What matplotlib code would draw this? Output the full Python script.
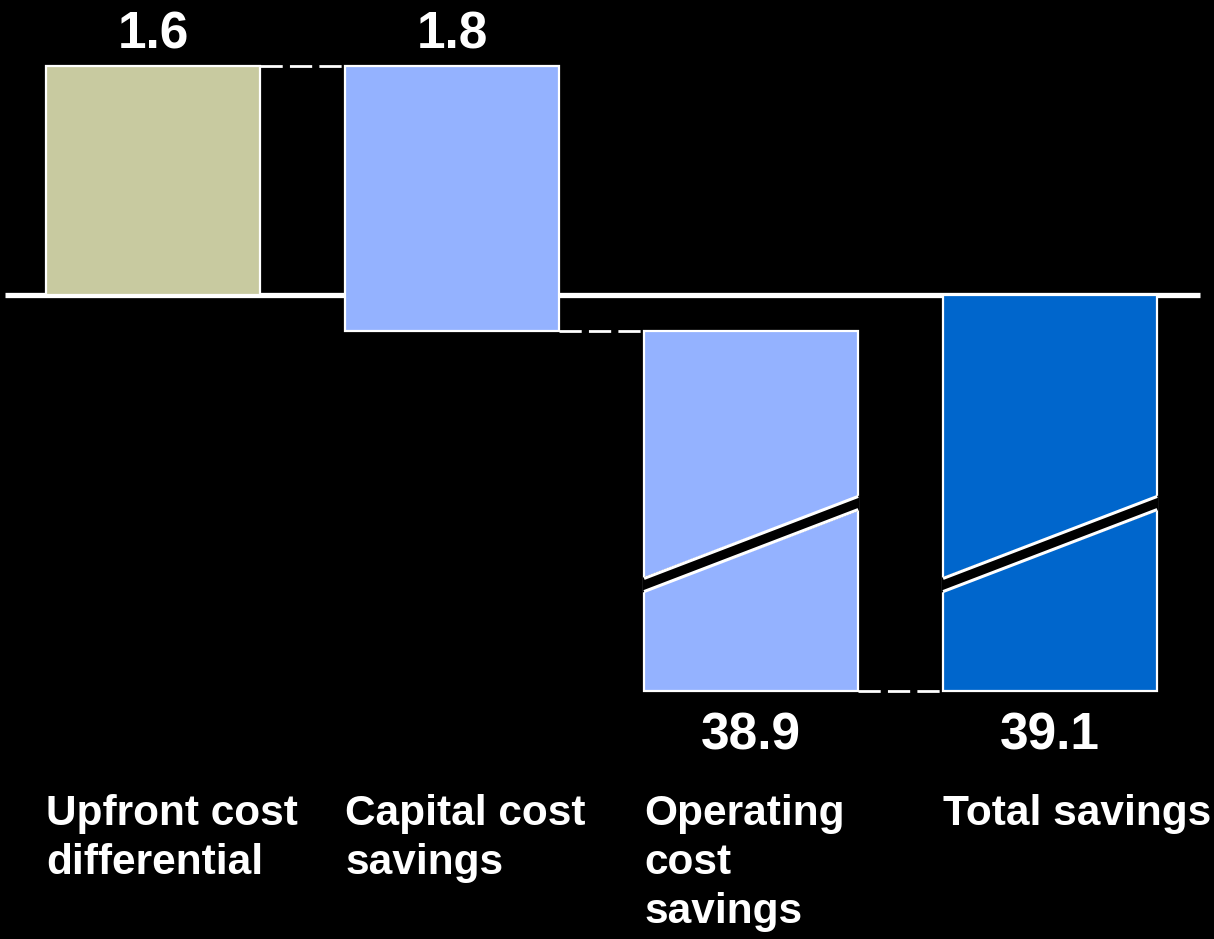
import numpy as np
import matplotlib
matplotlib.use("Agg")
import matplotlib.pyplot as plt
from matplotlib.patches import Polygon

# data
categories = ["Upfront cost\ndifferential", "Capital cost\nsavings",
              "Operating\ncost\nsavings", "Total savings"]
steps = [1.6, -1.8, -38.9]          # signed waterfall steps
labels = ["1.6", "1.8", "38.9", "39.1"]
colors = ["#C8CAA0", "#94B2FF", "#94B2FF", "#0066CC"]

# waterfall bottoms / tops
ends = np.cumsum(steps)
starts = np.concatenate([[0], ends[:-1]])
total = ends[-1]
bottoms = list(starts) + [0]
heights = list(steps) + [total]

# broken value axis: small values linear, big drop compressed
v_knots = np.array([-200, -39.1, -0.2, 0, 10])
s_knots = np.array([-13.18, -2.769, -0.252, 0, 10])

def fwd(v):
    return np.interp(v, v_knots, s_knots)

def inv(s):
    return np.interp(s, s_knots, v_knots)

fig = plt.figure(figsize=(12.14, 9.39), dpi=100, facecolor="black")
ax = fig.add_axes([0, 0, 1, 1])
ax.set_facecolor("black")
ax.set_yscale("function", functions=(fwd, inv))
ax.set_xlim(-0.512, 3.548)
ax.set_ylim(inv(-644 / 143), inv(295 / 143))
ax.axis("off")

x = np.arange(len(categories))
w = 0.716

# zero line
ax.plot([-0.495, 3.502], [0, 0], color="white", lw=3.8, zorder=1,
        solid_capstyle="butt")

ax.bar(x, heights, bottom=bottoms, width=w, color=colors,
       edgecolor="white", linewidth=1.6, zorder=2)

# dashed connectors between bars
levels = list(ends)
for i in range(len(levels)):
    ax.plot([x[i] + w / 2, x[i + 1] - w / 2], [levels[i], levels[i]],
            color="white", lw=2, linestyle=(0, (8, 2.6)), zorder=1)

# break marks on the two big bars (axes-fraction y)
tr = ax.get_xaxis_transform()
yl, yr, half = 1 - 585 / 939, 1 - 503 / 939, 7.5 / 939
for i in [2, 3]:
    xl, xr = x[i] - w / 2 - 0.004, x[i] + w / 2 + 0.004
    band = Polygon([[xl, yl - half], [xr, yr - half], [xr, yr + half], [xl, yl + half]],
                   closed=True, facecolor="black", edgecolor="none",
                   transform=tr, zorder=3)
    ax.add_patch(band)
    for off in (-half + 0.001, half - 0.001):
        ax.plot([x[i] - w / 2, x[i] + w / 2], [yl + off, yr + off], color="white",
                lw=2.2, transform=tr, zorder=4, solid_capstyle="butt")

# value labels
for i in range(len(categories)):
    if heights[i] > 0 or i == 1:
        ytop = max(bottoms[i], bottoms[i] + heights[i])
        ax.annotate(labels[i], (x[i], ytop), xytext=(0, 13), textcoords="offset points",
                    ha="center", va="baseline", color="white", fontsize=37,
                    fontweight="bold", family="Liberation Sans")
    else:
        ybot = min(bottoms[i], bottoms[i] + heights[i])
        ax.annotate(labels[i], (x[i], ybot), xytext=(0, -42), textcoords="offset points",
                    ha="center", va="baseline", color="white", fontsize=37,
                    fontweight="bold", family="Liberation Sans")

# category labels
for i, c in enumerate(categories):
    ax.text(x[i] - w / 2, 1 - 794 / 939, c, transform=tr, ha="left", va="top",
            color="white", fontsize=30.5, fontweight="bold", family="Liberation Sans",
            linespacing=1.29)

fig.savefig("out.png", dpi=100, facecolor="black")
